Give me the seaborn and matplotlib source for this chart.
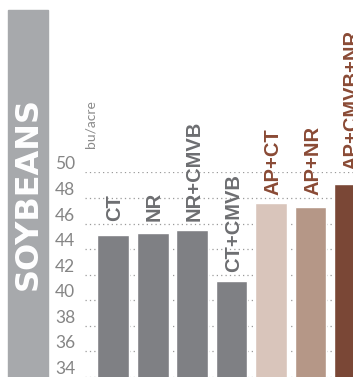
import numpy as np
import matplotlib
matplotlib.use("Agg")
import matplotlib.pyplot as plt
from matplotlib.patches import Rectangle
import seaborn as sns

# data (bu/acre)
treatments = ["CT", "NR", "NR+CMVB", "CT+CMVB", "AP+CT", "AP+NR", "AP+CMVB+NR"]
yields = [45.1, 45.3, 45.5, 41.5, 47.6, 47.3, 49.1]
bar_colors = ["#7f8084", "#7f8084", "#7f8084", "#7f8084", "#d9c5bb", "#b59787", "#7a4736"]
label_colors = ["#6d6e71", "#6d6e71", "#6d6e71", "#6d6e71", "#8a4a35", "#8a4a35", "#8a4a35"]
yticks = [34, 36, 38, 40, 42, 44, 46, 48, 50]

sns.set_style("white")
plt.rcParams["font.family"] = ["Liberation Sans", "DejaVu Sans"]

W, H = 353, 377
fig = plt.figure(figsize=(W / 100, H / 100), dpi=100)

# grey side banner
fig.patches.append(Rectangle((8 / W, 0), 40 / W, 1 - 10 / H, transform=fig.transFigure,
                             color="#a7a9ac", zorder=0))
fig.text(28.5 / W, 1 - 194 / H, "SOYBEANS", rotation=90, ha="center", va="center",
         color="white", fontsize=23, fontweight="heavy", family="DejaVu Sans")
fig.text(91 / W, 1 - 124 / H, "bu/acre", rotation=90, ha="center", va="center",
         color="#8a8a8a", fontsize=10, family=["Lato", "DejaVu Sans"])

ax = fig.add_axes([85 / W, 0, 1 - 85 / W, (377.3 - 172.7) / H])
sns.barplot(x=treatments, y=yields, hue=treatments, palette=bar_colors, width=0.81,
            legend=False, saturation=1, ax=ax)

ax.set_ylim(34, 50)
ax.set_xlim(-0.709, 6.076)
ax.set_yticks(yticks)
ax.set_yticklabels([str(t) for t in yticks], color="#858585", fontsize=12.5,
                   family=["Lato", "DejaVu Sans"])
for lab in ax.get_yticklabels():
    lab.set_verticalalignment("bottom")
ax.tick_params(axis="y", length=0, pad=7)
ax.tick_params(axis="x", length=0, labelbottom=False)
ax.set_xlabel("")
ax.set_ylabel("")
ax.set_axisbelow(True)
ax.yaxis.grid(True, linestyle=(0, (1, 2.5)), color="#9a9a9a", linewidth=0.9)
ax.xaxis.grid(False)
sns.despine(ax=ax, left=True, bottom=True)

# labels sit just above the next even gridline over each bar
for i, (name, v) in enumerate(zip(treatments, yields)):
    ly = np.ceil(v / 2) * 2
    ax.annotate(name, (i, ly), xytext=(1.5, 2), textcoords="offset points",
                rotation=90, ha="center", va="bottom", color=label_colors[i],
                fontsize=14.5, fontweight="bold", annotation_clip=False)

fig.savefig("out.png", dpi=100)
